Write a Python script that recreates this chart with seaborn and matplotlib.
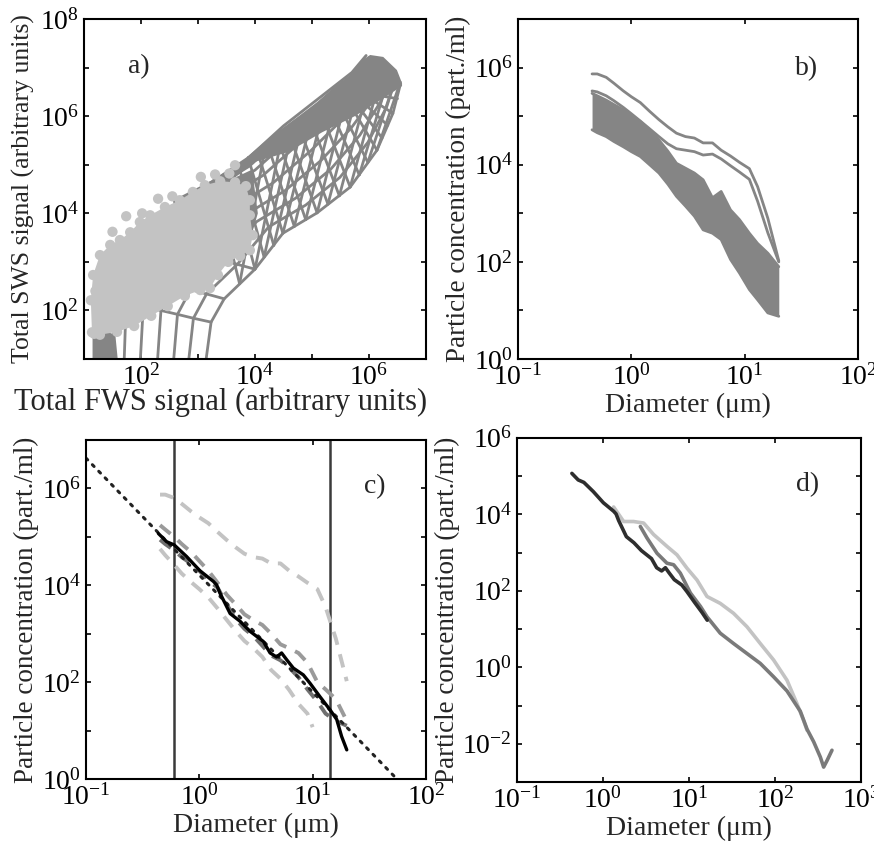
import matplotlib
matplotlib.use('Agg')
import matplotlib.pyplot as plt
import matplotlib.ticker as mticker
import numpy as np
import pandas as pd
import seaborn as sns

# ---------------- panel a : values in log10 decades
# mesh nodes, one row per model curve (top of band -> lower envelope)
mesh_u = [
    [1.20, 1.22, 1.45, 2.00, 2.90, 3.80, 4.50, 5.10, 5.70, 5.95],
    [1.35, 1.38, 1.61, 2.16, 3.02, 3.90, 4.59, 5.18, 5.76, 6.00],
    [1.50, 1.53, 1.76, 2.31, 3.15, 4.00, 4.68, 5.26, 5.81, 6.04],
    [1.70, 1.74, 1.97, 2.52, 3.31, 4.14, 4.80, 5.37, 5.89, 6.11],
    [1.98, 2.04, 2.27, 2.81, 3.55, 4.32, 4.98, 5.52, 5.99, 6.19],
    [2.28, 2.35, 2.58, 3.13, 3.79, 4.53, 5.16, 5.69, 6.11, 6.29],
    [2.56, 2.64, 2.87, 3.42, 4.03, 4.71, 5.33, 5.84, 6.21, 6.38],
    [2.82, 2.92, 3.15, 3.69, 4.24, 4.89, 5.49, 5.98, 6.31, 6.46],
    [3.12, 3.23, 3.46, 4.00, 4.49, 5.09, 5.67, 6.14, 6.42, 6.55],
]
mesh_v = [
    [0.80, 2.30, 2.90, 3.50, 4.40, 5.05, 5.80, 6.35, 6.90, 7.25],
    [0.80, 2.26, 2.85, 3.45, 4.34, 4.97, 5.70, 6.27, 6.83, 7.20],
    [0.80, 2.22, 2.80, 3.40, 4.27, 4.89, 5.60, 6.19, 6.77, 7.16],
    [0.80, 2.16, 2.73, 3.33, 4.19, 4.78, 5.47, 6.08, 6.68, 7.09],
    [0.80, 2.08, 2.63, 3.24, 4.07, 4.63, 5.29, 5.92, 6.56, 7.01],
    [0.80, 2.00, 2.53, 3.13, 3.94, 4.47, 5.09, 5.76, 6.43, 6.91],
    [0.80, 1.92, 2.43, 3.04, 3.83, 4.31, 4.91, 5.61, 6.31, 6.83],
    [0.80, 1.84, 2.34, 2.95, 3.72, 4.17, 4.74, 5.46, 6.19, 6.74],
    [0.80, 1.76, 2.24, 2.85, 3.59, 4.01, 4.54, 5.30, 6.06, 6.65],
]
# steep cross strokes of the net, from the lower envelope up into the dense band
net_bot_u = [3.73, 4.00, 4.16, 4.33, 4.49, 4.69, 4.89, 5.09, 5.28, 5.48, 5.67, 5.83,
             5.98, 6.14, 6.23, 6.33, 6.42, 6.50]
net_bot_v = [2.55, 2.85, 3.10, 3.34, 3.59, 3.73, 3.87, 4.01, 4.19, 4.36, 4.54, 4.79,
             5.05, 5.30, 5.55, 5.81, 6.06, 6.36]
net_right_u = [4.18, 4.45, 4.61, 4.78, 4.94, 5.14, 5.34, 5.54, 5.73, 5.93, 6.12, 6.28,
               6.43, 6.55]
net_right_v = [5.35, 5.45, 5.50, 5.60, 5.70, 5.85, 5.95, 6.10, 6.20, 6.35, 6.45, 6.55,
               6.65, 6.70]
net_left_u = [3.28, 3.55, 3.71, 3.88, 4.04, 4.24, 4.44, 4.64, 4.83, 5.03, 5.22, 5.38,
              5.53, 5.69, 5.78, 5.88, 5.97, 6.05]
net_left_v = [4.70, 4.85, 5.00, 5.15, 5.28, 5.35, 5.40, 5.50, 5.60, 5.75, 5.90, 6.00,
              6.10, 6.20, 6.25, 6.30, 6.40, 6.45]
band_u = [2.56, 2.81, 3.26, 3.86, 4.21, 4.49, 4.79, 5.09, 5.37, 5.67, 5.89, 6.02,
          6.25, 6.49, 6.58, 6.58, 6.23, 5.75, 5.18, 4.58, 4.00, 3.50, 3.00, 2.60]
band_v = [4.27, 4.42, 4.69, 5.16, 5.51, 5.76, 6.02, 6.29, 6.58, 6.85, 7.16, 7.26,
          7.22, 6.95, 6.68, 6.62, 6.35, 6.00, 5.67, 5.26, 5.06, 4.60, 4.20, 4.00]
patch_u = [3.40, 3.95, 4.05, 3.90, 3.65, 3.45]
patch_v = [4.60, 4.90, 4.00, 3.40, 3.20, 3.60]
corner_u = [1.15, 1.15, 1.30, 1.55, 1.60]
corner_v = [0.90, 1.70, 1.60, 1.50, 0.90]
blob_u = [1.14, 1.12, 1.16, 1.28, 1.46, 1.63, 1.81, 1.98, 2.16, 2.42, 2.68, 2.91, 3.12,
          3.39, 3.65, 3.84, 3.91, 3.91, 3.96, 3.91, 3.74, 3.53, 3.35, 3.21, 3.04, 2.77,
          2.47, 2.18, 1.88, 1.58, 1.28, 1.18]
blob_v = [1.55, 2.21, 2.73, 3.14, 3.35, 3.45, 3.61, 3.82, 3.96, 4.13, 4.27, 4.44, 4.58,
          4.66, 4.64, 4.56, 4.27, 3.96, 3.55, 3.24, 3.12, 3.00, 2.73, 2.46, 2.42, 2.30,
          2.09, 1.89, 1.68, 1.56, 1.50, 1.52]
dots_u = [1.74, 3.65, 2.30, 3.05, 1.50, 2.02, 3.30, 3.80, 1.20, 2.55, 3.55, 1.35]
dots_v = [3.94, 4.99, 4.30, 4.75, 3.62, 4.00, 4.80, 3.50, 2.40, 4.35, 4.82, 1.70]

# ---------------- panel b
b_diam = [0.45, 0.5, 0.6, 0.7, 0.85, 1.0, 1.2, 1.45, 1.75, 2.1, 2.5, 3.0, 3.6, 4.3,
          5.2, 6.2, 7.5, 9.0, 11, 13, 16, 20]
b_upper = [5.47, 5.42, 5.33, 5.24, 5.13, 5.02, 4.89, 4.70, 4.51, 4.28, 4.03, 3.93,
           3.83, 3.69, 3.32, 3.45, 3.07, 2.87, 2.59, 2.38, 2.18, 1.90]
b_lower = [4.72, 4.66, 4.58, 4.48, 4.37, 4.27, 4.17, 4.00, 3.83, 3.60, 3.35, 3.15,
           2.94, 2.66, 2.59, 2.46, 2.05, 1.77, 1.43, 1.22, 0.95, 0.88]
b_out1 = [5.87, 5.87, 5.80, 5.68, 5.52, 5.40, 5.28, 5.10, 4.93, 4.78, 4.65, 4.58,
          4.55, 4.45, 4.45, 4.30, 4.18, 4.05, 3.92, 3.55, 2.90, 2.02]
b_out2 = [5.52, 5.50, 5.42, 5.32, 5.18, 5.05, 4.90, 4.74, 4.58, 4.43, 4.33, 4.30,
          4.27, 4.20, 4.22, 4.12, 3.98, 3.85, 3.70, 3.25, 2.60, 2.00]

# ---------------- panel c
c_mean_diam = [0.435, 0.515, 0.60, 0.773, 1.01, 1.33, 1.42, 1.52, 1.87, 2.29, 2.80, 3.67,
               4.21, 4.81, 5.32, 5.90, 6.75, 8.27, 9.47, 11.6, 14.2, 16.3, 18.0, 20.0]
c_mean_conc = [1.17e5, 7.9e4, 6.8e4, 3.9e4, 2.0e4, 1.2e4, 1.02e4, 6.9e3, 2.6e3, 1.8e3,
               1.12e3, 690, 400, 330, 400, 290, 195, 141, 95, 50, 27, 17, 7.6, 4.0]
c_fit_diam = [0.1, 100]
c_fit_conc = [4.2e6, 0.24]
c_limits = [0.60, 14.2]
c_low_diam = [0.45, 0.5, 0.6, 0.7, 0.85, 1.0, 1.2, 1.45, 1.75, 2.1, 2.5, 3.0, 3.6,
              4.3, 5.2, 6.2, 7.5, 9.0, 10.0]
c_low = [4.75, 4.62, 4.42, 4.24, 4.06, 3.92, 3.75, 3.52, 3.28, 3.05, 2.85, 2.70, 2.52,
         2.25, 2.07, 1.84, 1.55, 1.35, 1.07]
c_mid = [5.24, 5.15, 5.00, 4.85, 4.68, 4.50, 4.30, 4.05, 3.80, 3.60, 3.40, 3.28,
         3.18, 3.00, 2.78, 2.70, 2.60, 2.40, 2.00, 1.85, 1.65, 1.20]
c_dark = [4.94, 4.85, 4.72, 4.58, 4.44, 4.30, 4.10, 3.95, 3.60, 3.30, 3.10, 2.95,
          2.75, 2.55, 2.45, 2.30, 2.10, 1.85, 1.60, 1.35, 1.20, 1.10]

# ---------------- panel d
d_light_diam = [1.33, 1.74, 2.27, 2.97, 3.88, 5.55, 7.25, 9.48, 12.4, 16.2, 23.1, 33.0,
                47.2, 67.5, 96.4, 138, 180, 215, 236]
d_light = [4.19, 3.81, 3.81, 3.77, 3.47, 3.16, 2.94, 2.59, 2.28, 1.85, 1.67, 1.41,
           1.06, 0.62, 0.19, -0.34, -0.95, -1.39, -1.65]
d_mid_diam = [2.72, 3.25, 4.25, 5.55, 6.63, 7.93, 10.4, 13.6, 16.2, 23.1, 33.0, 47.2,
              67.5, 96.4, 138, 197, 236, 282, 337, 368, 403, 460]
d_mid = [3.68, 3.38, 2.98, 2.72, 2.68, 2.46, 1.94, 1.59, 1.32, 0.89, 0.62, 0.36,
         0.10, -0.25, -0.62, -1.15, -1.62, -1.95, -2.35, -2.61, -2.44, -2.17]

GREY = '#858585'
LIGHT = '#c3c3c3'

sns.set_theme(style='ticks', rc={'axes.linewidth': 1.5,
                                 'xtick.direction': 'in', 'ytick.direction': 'in',
                                 'xtick.top': True, 'ytick.right': True,
                                 'xtick.major.size': 3.5, 'ytick.major.size': 3.5,
                                 'xtick.major.width': 1.2, 'ytick.major.width': 1.2,
                                 'xtick.minor.visible': False, 'ytick.minor.visible': False})
plt.rcParams['font.family'] = ['Liberation Serif', 'DejaVu Serif']
plt.rcParams['mathtext.fontset'] = 'stix'

TICK_FS = 20
XLABEL_FS = 20
YLABEL_FS = 19.5


def dec(vals):
    return np.power(10.0, np.asarray(vals, dtype=float))


def log_axes(ax, xlim, ylim, xshow, yshow):
    ax.set_xscale('log')
    ax.set_yscale('log')
    ax.set_xlim(*xlim)
    ax.set_ylim(*ylim)
    for axis, show in ((ax.xaxis, xshow), (ax.yaxis, yshow)):
        axis.set_major_locator(mticker.LogLocator(base=10, numticks=30))
        axis.set_minor_locator(mticker.NullLocator())
        axis.set_major_formatter(mticker.FuncFormatter(
            lambda v, p, s=show: (r'$\mathdefault{10^{%d}}$' % int(round(np.log10(v))))
            if int(round(np.log10(v))) in s else ''))
    ax.tick_params(labelsize=TICK_FS, which='both', colors='black')
    for sp in ax.spines.values():
        sp.set_color('black')


def segments(u0, v0, u1, v1):
    n = min(len(u0), len(u1))
    return pd.DataFrame({'x': dec(list(u0[:n]) + list(u1[:n])),
                         'y': dec(list(v0[:n]) + list(v1[:n])),
                         'seg': list(range(n)) * 2})


fig = plt.figure(figsize=(8.74, 8.5), dpi=100)
ax_a = fig.add_axes([0.0961, 0.5776, 0.3913, 0.4000])
ax_b = fig.add_axes([0.5927, 0.5776, 0.3890, 0.4000])
ax_c = fig.add_axes([0.0984, 0.0835, 0.3890, 0.3990])
ax_d = fig.add_axes([0.5915, 0.0800, 0.3936, 0.4050])

# ---- a)
log_axes(ax_a, (1e1, 1e7), (1e1, 1e8), {2, 4, 6}, {2, 4, 6, 8})
rows = pd.DataFrame({'x': dec(np.ravel(mesh_u)), 'y': dec(np.ravel(mesh_v)),
                     'row': np.repeat(np.arange(len(mesh_u)), len(mesh_u[0])),
                     'col': np.tile(np.arange(len(mesh_u[0])), len(mesh_u))})
ax_a.fill(dec(band_u), dec(band_v), color=GREY, lw=0, zorder=1)
ax_a.fill(dec(patch_u), dec(patch_v), color=GREY, lw=0, zorder=1)
ax_a.fill(dec(corner_u), dec(corner_v), color=GREY, lw=0, zorder=1)
sns.lineplot(data=rows, x='x', y='y', units='row', estimator=None, sort=False,
             color=GREY, lw=2, ax=ax_a, zorder=2)
sns.lineplot(data=rows[rows['col'].between(1, 3)], x='x', y='y', units='col',
             estimator=None, sort=False, color=GREY, lw=2, ax=ax_a, zorder=2)
for top_u, top_v in ((net_right_u, net_right_v), (net_left_u, net_left_v)):
    sns.lineplot(data=segments(net_bot_u, net_bot_v, top_u, top_v), x='x', y='y',
                 units='seg', estimator=None, sort=False, color=GREY, lw=2, ax=ax_a, zorder=2)
ax_a.fill(dec(blob_u), dec(blob_v), color=LIGHT, lw=0, zorder=3)
sns.scatterplot(x=dec(blob_u + dots_u), y=dec(blob_v + dots_v), color=LIGHT, s=55,
                edgecolor='none', ax=ax_a, zorder=4)
ax_a.set_xlabel('Total FWS signal (arbitrary units)', fontsize=22, labelpad=2)
ax_a.xaxis.set_label_coords(0.40, -0.085)
ax_a.set_ylabel('Total SWS signal (arbitrary units)', fontsize=18.5, labelpad=3)
ax_a.text(0.16, 0.86, 'a)', transform=ax_a.transAxes, fontsize=20, ha='center', va='center')

# ---- b)
log_axes(ax_b, (1e-1, 1e2), (1e0, 1e7), {-1, 0, 1, 2}, {0, 2, 4, 6})
ax_b.fill_between(b_diam, dec(b_lower), dec(b_upper), color=GREY, lw=0)
for series in (b_upper, b_lower, b_out1, b_out2):
    sns.lineplot(x=b_diam, y=dec(series), color=GREY, lw=2, sort=False, ax=ax_b)
ax_b.set_xlabel('Diameter (\u03bcm)', fontsize=XLABEL_FS, labelpad=2)
ax_b.set_ylabel('Particle concentration (part./ml)', fontsize=YLABEL_FS, labelpad=2)
ax_b.text(0.85, 0.855, 'b)', transform=ax_b.transAxes, fontsize=20, ha='center', va='center')

# ---- c)
log_axes(ax_c, (1e-1, 1e2), (1e0, 1e7), {-1, 0, 1, 2}, {0, 2, 4, 6})
for xv in c_limits:
    ax_c.axvline(xv, color='#3a3a3a', lw=1.8, zorder=1)
dash = (0, (3.5, 2.5))
sns.lineplot(x=b_diam, y=dec(b_out1), color=LIGHT, lw=2.8, linestyle=dash, sort=False, ax=ax_c)
sns.lineplot(x=c_low_diam, y=dec(c_low), color=LIGHT, lw=2.8, linestyle=dash, sort=False, ax=ax_c)
sns.lineplot(x=b_diam, y=dec(c_mid), color='#9a9a9a', lw=2.8, linestyle=dash, sort=False, ax=ax_c)
sns.lineplot(x=b_diam, y=dec(c_dark), color='#707070', lw=2.8, linestyle=dash, sort=False, ax=ax_c)
sns.lineplot(x=c_fit_diam, y=c_fit_conc, color='#222222', lw=2.2, linestyle=(0, (0.8, 2.2)),
             dash_capstyle='round', sort=False, ax=ax_c)
sns.lineplot(x=c_mean_diam, y=c_mean_conc, color='black', lw=2.4, sort=False, ax=ax_c)
ax_c.set_xlabel('Diameter (\u03bcm)', fontsize=XLABEL_FS, labelpad=2)
ax_c.set_ylabel('Particle concentration (part./ml)', fontsize=YLABEL_FS, labelpad=2)
ax_c.text(0.85, 0.862, 'c)', transform=ax_c.transAxes, fontsize=20, ha='center', va='center')

# ---- d)
log_axes(ax_d, (1e-1, 1e3), (1e-3, 1e6), {-1, 0, 1, 2, 3}, {-2, 0, 2, 4, 6})
d_dark_diam = [v for v in c_mean_diam if v <= 16.3]
sns.lineplot(x=d_light_diam, y=dec(d_light), color=LIGHT, lw=2.6, sort=False, ax=ax_d)
sns.lineplot(x=d_mid_diam, y=dec(d_mid), color='#7a7a7a', lw=2.6, sort=False, ax=ax_d)
sns.lineplot(x=d_dark_diam, y=c_mean_conc[:len(d_dark_diam)], color='#2e2e2e', lw=2.6,
             sort=False, ax=ax_d)
ax_d.set_xlabel('Diameter (\u03bcm)', fontsize=XLABEL_FS, labelpad=2)
ax_d.set_ylabel('Particle concentration (part./ml)', fontsize=YLABEL_FS, labelpad=2)
ax_d.text(0.846, 0.865, 'd)', transform=ax_d.transAxes, fontsize=20, ha='center', va='center')

fig.savefig('out.png', dpi=100)
